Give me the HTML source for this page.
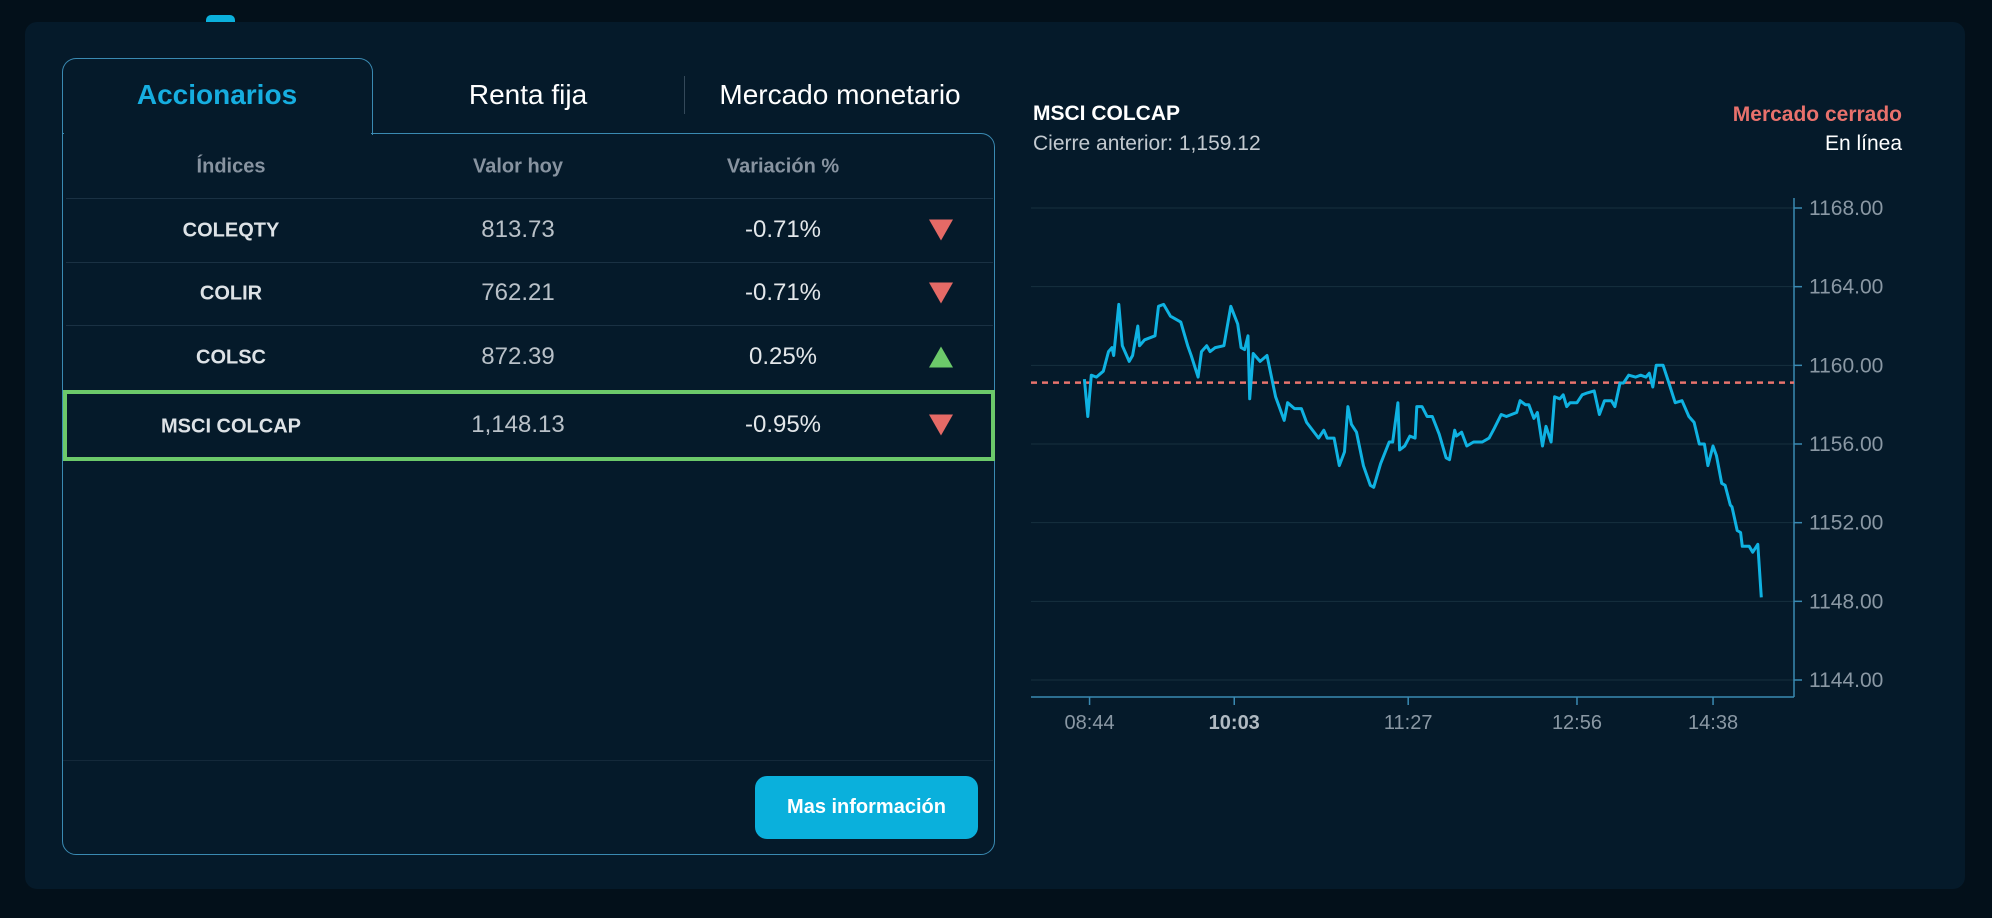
<!DOCTYPE html>
<html><head><meta charset="utf-8">
<style>
html,body{margin:0;padding:0;}
body{width:1992px;height:918px;background:#03101a;position:relative;overflow:hidden;font-family:"Liberation Sans",sans-serif;}
.abs{position:absolute;}
.panel{left:25px;top:22px;width:1940px;height:867px;background:#051a2a;border-radius:12px;}
.c{position:absolute;transform:translate(-50%,-50%);white-space:nowrap;}
.sep{position:absolute;height:1px;background:#1a3143;}
</style></head>
<body>
<div class="abs" style="left:206px;top:15px;width:29px;height:10px;background:#0bb0dc;border-radius:5px 5px 0 0;"></div>
<div class="abs panel"></div>

<!-- card -->
<div class="abs" style="left:62px;top:58px;width:309px;height:76px;border:1.5px solid #3a8ab2;border-bottom:none;border-radius:14px 14px 0 0;"></div>
<div class="abs" style="left:62px;top:133px;width:931px;height:720px;border:1.5px solid #3a8ab2;border-radius:0 14px 14px 14px;"></div>
<div class="abs" style="left:63.5px;top:128px;width:307px;height:8px;background:#051a2a;"></div>

<div class="c" style="left:217px;top:95px;font-size:28px;font-weight:bold;color:#16aee0;">Accionarios</div>
<div class="c" style="left:528px;top:95px;font-size:28px;color:#fff;">Renta fija</div>
<div class="abs" style="left:684px;top:76px;width:1px;height:38px;background:#34495a;"></div>
<div class="c" style="left:840px;top:95px;font-size:28px;color:#fff;">Mercado monetario</div>

<div class="c" style="left:231px;top:167px;font-size:20px;font-weight:bold;color:#8793a0;">Índices</div>
<div class="c" style="left:518px;top:167px;font-size:20px;font-weight:bold;color:#8793a0;">Valor hoy</div>
<div class="c" style="left:783px;top:167px;font-size:20px;font-weight:bold;color:#8793a0;">Variación %</div>
<div class="sep" style="left:66px;top:198px;width:927px;"></div>

<div class="c" style="left:231px;top:231px;font-size:20px;font-weight:bold;color:#dde2e6;">COLEQTY</div>
<div class="c" style="left:518px;top:230px;font-size:24px;color:#b9c1c8;">813.73</div>
<div class="c" style="left:783px;top:230px;font-size:24px;color:#e3e7ea;">-0.71%</div>
<div class="c" style="left:941px;top:230px;width:0;height:0;border-left:12px solid transparent;border-right:12px solid transparent;border-top:21px solid #e56a66;"></div>
<div class="sep" style="left:66px;top:262px;width:927px;"></div>

<div class="c" style="left:231px;top:294px;font-size:20px;font-weight:bold;color:#dde2e6;">COLIR</div>
<div class="c" style="left:518px;top:293px;font-size:24px;color:#b9c1c8;">762.21</div>
<div class="c" style="left:783px;top:293px;font-size:24px;color:#e3e7ea;">-0.71%</div>
<div class="c" style="left:941px;top:293px;width:0;height:0;border-left:12px solid transparent;border-right:12px solid transparent;border-top:21px solid #e56a66;"></div>
<div class="sep" style="left:66px;top:325px;width:927px;"></div>

<div class="c" style="left:231px;top:358px;font-size:20px;font-weight:bold;color:#dde2e6;">COLSC</div>
<div class="c" style="left:518px;top:357px;font-size:24px;color:#b9c1c8;">872.39</div>
<div class="c" style="left:783px;top:357px;font-size:24px;color:#e3e7ea;">0.25%</div>
<div class="c" style="left:941px;top:357px;width:0;height:0;border-left:12px solid transparent;border-right:12px solid transparent;border-bottom:21px solid #6cc96a;"></div>

<div class="abs" style="left:63px;top:390px;width:924px;height:63px;border:4px solid #6cc96a;"></div>
<div class="c" style="left:231px;top:427px;font-size:20px;font-weight:bold;color:#dde2e6;">MSCI COLCAP</div>
<div class="c" style="left:518px;top:425px;font-size:24px;color:#b9c1c8;">1,148.13</div>
<div class="c" style="left:783px;top:425px;font-size:24px;color:#e3e7ea;">-0.95%</div>
<div class="c" style="left:941px;top:425px;width:0;height:0;border-left:12px solid transparent;border-right:12px solid transparent;border-top:21px solid #e56a66;"></div>

<div class="sep" style="left:63px;top:760px;width:930px;background:#14293a;"></div>
<div class="abs" style="left:755px;top:776px;width:223px;height:63px;background:#0ab0dc;border-radius:12px;color:#fff;font-size:20px;font-weight:bold;line-height:63px;text-align:center;">Mas información</div>

<!-- chart header -->
<div class="abs" style="left:1033px;top:102px;font-size:21px;font-weight:bold;color:#fff;">MSCI COLCAP</div>
<div class="abs" style="left:1033px;top:132px;font-size:21px;color:#c3cad0;">Cierre anterior: 1,159.12</div>
<div class="abs" style="right:90px;top:103px;font-size:21px;font-weight:bold;color:#e8716c;">Mercado cerrado</div>
<div class="abs" style="right:90px;top:132px;font-size:21px;color:#fff;">En línea</div>

<svg class="abs" style="left:0;top:0;" width="1992" height="918" id="chart"></svg>
<script>
const sampleIdx=[0,2,4,7,11,14,16,17,20,22,26,28,31,32,35,41,43,46,50,56,60,62,66,68,71,73,76,81,85,89,91,93,95,96,98,102,106,111,116,118,122,126,129,136,139,141,145,148,151,153,155,158,162,166,168,172,177,179,182,183,186,189,192,193,196,199,202,206,210,212,215,216,219,222,226,231,235,238,242,245,248,251,253,256,258,261,263,266,268,271,273,276,278,280,282,286,289,292,296,299,302,306,308,311,313,316,320,323,326,328,330,332,336,339,343,347,351,354,357,360,362,365,367,370,372,375,376,379,381,382,386,388,391,393];
const prices=[1159.3,1157.4,1159.5,1159.4,1159.7,1160.7,1160.9,1160.5,1163.1,1161.0,1160.2,1160.5,1162.0,1161.0,1161.3,1161.5,1163.0,1163.1,1162.5,1162.2,1161.0,1160.5,1159.4,1160.7,1161.0,1160.7,1160.9,1161.0,1163.0,1162.1,1160.9,1160.8,1161.5,1158.3,1160.6,1160.2,1160.5,1158.4,1157.2,1158.1,1157.8,1157.8,1157.1,1156.3,1156.7,1156.3,1156.3,1154.9,1155.6,1157.9,1157.0,1156.6,1154.9,1153.9,1153.8,1155.0,1156.1,1156.1,1158.1,1155.7,1155.9,1156.4,1156.3,1157.9,1157.9,1157.4,1157.4,1156.5,1155.3,1155.2,1156.7,1156.4,1156.6,1155.9,1156.1,1156.1,1156.3,1156.8,1157.5,1157.4,1157.5,1157.6,1158.2,1158.0,1158.0,1157.3,1157.6,1155.9,1156.9,1156.1,1158.4,1158.3,1158.5,1157.9,1158.1,1158.1,1158.5,1158.6,1158.7,1157.5,1158.2,1158.2,1157.9,1159.1,1159.1,1159.5,1159.4,1159.5,1159.4,1159.6,1158.9,1160.0,1160.0,1159.2,1158.1,1158.2,1157.4,1157.1,1156.0,1156.0,1154.9,1155.9,1155.4,1154.0,1153.9,1152.9,1152.8,1151.6,1151.5,1150.8,1150.8,1150.5,1150.9,1148.2];
const yTicks=[1144,1148,1152,1156,1160,1164,1168];
const xTickIdx=[3,87,188,286,365];
const xTickLabels=["08:44","10:03","11:27","12:56","14:38"];
const previousClose=1159.12;
const xDomain=[-31,412], yDomain=[1144,1168];
const L=1031,R=1794,T=208,B=680,AX=697;
const xs=v=>L+(v-xDomain[0])/(xDomain[1]-xDomain[0])*(R-L);
const ys=v=>B-(v-yDomain[0])/(yDomain[1]-yDomain[0])*(B-T);
const svg=document.getElementById('chart');const NS='http://www.w3.org/2000/svg';
function mk(t,a,p){const e=document.createElementNS(NS,t);for(const k in a)e.setAttribute(k,a[k]);(p||svg).appendChild(e);return e;}
yTicks.forEach((v,i)=>{
 const g=mk('line',{x1:L,x2:R,y1:ys(v),y2:ys(v),stroke:'#17303f','stroke-width':1});
 
 
 const tk=mk('line',{x1:R,x2:R+8,y1:ys(v),y2:ys(v),stroke:'#3a8ab2','stroke-width':1.5});
 
 
 const t=mk('text',{x:R+15,y:ys(v)+7,fill:'#8a98a4','font-size':21,'font-family':'Liberation Sans, sans-serif'});
 t.textContent=v.toFixed(2);
 
 
});
const ya=mk('line',{x1:R,x2:R,y1:198,y2:AX,stroke:'#3a8ab2','stroke-width':1.5});


const xa=mk('line',{x1:L,x2:R,y1:AX,y2:AX,stroke:'#3a8ab2','stroke-width':1.5});


xTickIdx.forEach((v,i)=>{
 const tk=mk('line',{x1:xs(v),x2:xs(v),y1:AX,y2:AX+8,stroke:'#3a8ab2','stroke-width':1.5});
 
 
 const t=mk('text',{x:xs(v),y:AX+32,fill:i==1?'#b0bac2':'#8a98a4','font-size':20,'font-weight':i==1?'bold':'normal','text-anchor':'middle','font-family':'Liberation Sans, sans-serif'});
 t.textContent=xTickLabels[i];
 
 
});
const ref=mk('line',{x1:L,x2:R,y1:ys(previousClose),y2:ys(previousClose),stroke:'#e8736d','stroke-width':2.5,'stroke-dasharray':'6,5'});


const d=sampleIdx.map((s,i)=>(i?'L':'M')+xs(s).toFixed(1)+','+ys(prices[i]).toFixed(1)).join('');
const ln=mk('path',{d:d,fill:'none',stroke:'#0fb2e2','stroke-width':3,'stroke-linejoin':'round'});


</script>
</body></html>
